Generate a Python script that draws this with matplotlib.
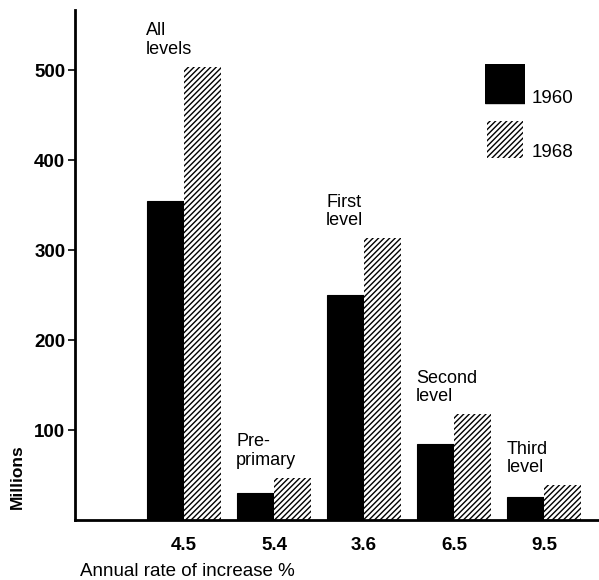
import numpy as np
import matplotlib
matplotlib.use("Agg")
import matplotlib.pyplot as plt

# data (millions)
levels     = ["All\nlevels", "Pre-\nprimary", "First\nlevel", "Second\nlevel", "Third\nlevel"]
rates      = ["4.5", "5.4", "3.6", "6.5", "9.5"]
values1960 = [355, 30, 250, 84, 26]
values1968 = [504, 47, 313, 118, 39]
years      = ["1960", "1968"]

plt.rcParams["font.family"] = ["Liberation Sans", "DejaVu Sans"]
plt.rcParams["hatch.linewidth"] = 1.0

fig = plt.figure(figsize=(5.99, 5.80), dpi=100)
ax = fig.add_axes([75 / 599, 60 / 580, 524 / 599, 510 / 580])

x = np.arange(len(levels))
w = 0.41
ax.bar(x - w / 2, values1960, w, color="black", edgecolor="black", linewidth=0.8)
ax.bar(x + w / 2, values1968, w, color="white", edgecolor="black",
       hatch="//////", linewidth=0)

# labels above each group
for i, lab in enumerate(levels):
    top = max(values1960[i], values1968[i])
    ax.text(x[i] - w - 0.01, top + 10, lab, ha="left", va="bottom",
            fontsize=13, linespacing=1.1)

ax.set_xlim(-1.21, 4.61)
ax.set_ylim(0, 567)
ax.set_yticks([100, 200, 300, 400, 500])
ax.tick_params(axis="y", direction="out", length=5, width=1.2, labelsize=13.5, pad=2)
for t in ax.get_yticklabels():
    t.set_fontweight("bold")
ax.set_xticks(x)
ax.set_xticklabels(rates, fontsize=13.5, fontweight="bold")
ax.tick_params(axis="x", length=0, pad=12)

ax.spines["top"].set_visible(False)
ax.spines["right"].set_visible(False)
ax.spines["left"].set_linewidth(2)
ax.spines["bottom"].set_linewidth(2)

ax.set_ylabel("Millions", fontsize=12.5, fontweight="bold", va="center")
ax.yaxis.set_label_coords(-0.11, 0.085)
ax.set_xlabel("Annual rate of increase %", fontsize=13.5, ha="left", va="center")
ax.xaxis.set_label_coords(0.01, -0.1)

# legend drawn by hand
lax = fig.add_axes([485 / 599, 1 - 158 / 580, 40 / 599, 94 / 580])
lax.axis("off")
lax.set_xlim(0, 1)
lax.set_ylim(0, 1)
lax.add_patch(plt.Rectangle((0, 0.58), 1, 0.42, facecolor="black", edgecolor="black"))
lax.add_patch(plt.Rectangle((0.05, 0.0), 0.9, 0.39, facecolor="white", edgecolor="black",
                            hatch="//////", linewidth=0))
fig.text(532 / 599, 1 - 103 / 580, years[0], fontsize=13.5, va="baseline")
fig.text(532 / 599, 1 - 157 / 580, years[1], fontsize=13.5, va="baseline")

fig.savefig("out.png", dpi=100)
